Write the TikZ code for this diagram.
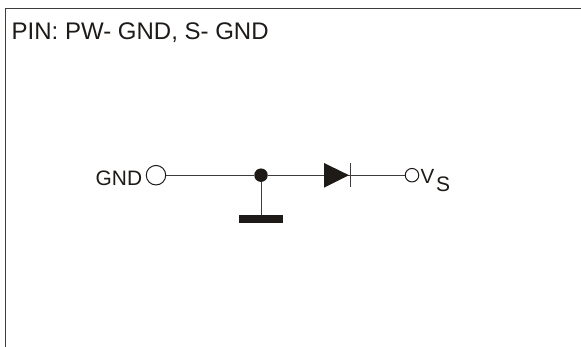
\documentclass[tikz,border=0pt]{standalone}
\usepackage{fontspec}
\setmainfont{Liberation Sans}
\definecolor{ink}{RGB}{30,26,24}
\tikzset{
  wire/.style={draw=ink!85!white,line width=1pt},
  lab/.style={inner sep=0pt,text=ink,anchor=base west},
  term/.style={circle,draw=ink,fill=white,line width=1pt,inner sep=0pt},
}
\begin{document}
\begin{tikzpicture}[x=1pt,y=-1pt]
\useasboundingbox (0,0) rectangle (581,347);
\draw[ink!85!white,line width=1.3pt] (5.5,347) -- (5.5,8.5) -- (581,8.5);
\node[lab,font=\fontsize{24}{26}\selectfont] (title) at (11.5,40) {PIN: PW- GND, S- GND};
\node[lab,font=\fontsize{20.9}{24}\selectfont] (gnd) at (95.5,185.5) {GND};
\node[term,minimum size=19.5pt] (a) at (156,175.2) {};
\node[circle,fill=ink,inner sep=0pt,minimum size=13.5pt] (j) at (261,175.2) {};
\coordinate (tip) at (349,175.2);
\node[term,minimum size=13.5pt] (b) at (412,175.2) {};
\node[lab,font=\fontsize{20.5}{22}\selectfont] (v) at (420.5,184) {V};
\node[lab,font=\fontsize{21}{23}\selectfont] (s) at (436,191.5) {S};
\node[fill=ink,inner sep=0pt,minimum width=44pt,minimum height=8pt] (g) at (261,219.5) {};
\draw[wire] (a) -- (j);
\draw[wire] (j) -- (g);
\draw[wire] (j) -- (tip);
\draw[wire] (tip) -- (b);
\fill[ink] (324,163) -- (349,175.2) -- (324,187.7) -- cycle;
\draw[wire] (350,163.5) -- (350,187.5);
\end{tikzpicture}
\end{document}
